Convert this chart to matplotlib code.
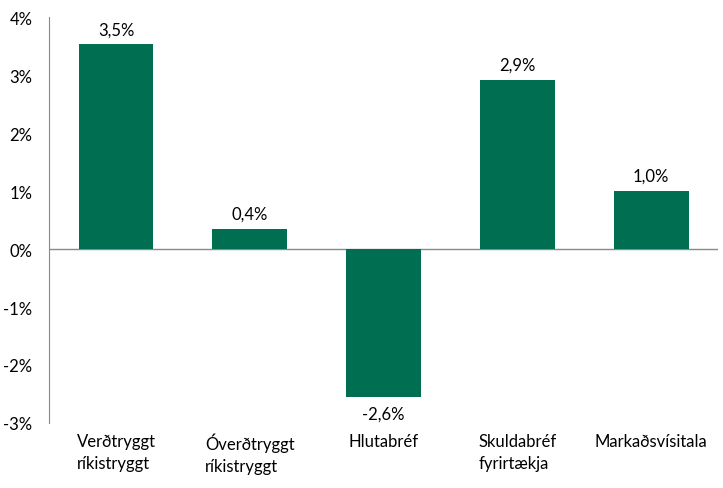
import matplotlib.pyplot as plt
from matplotlib.ticker import FuncFormatter

# categories and returns (%)
categories = ["Verðtryggt\nríkistryggt", "Óverðtryggt\nríkistryggt", "Hlutabréf",
              "Skuldabréf\nfyrirtækja", "Markaðsvísitala"]
values = [3.53, 0.35, -2.56, 2.92, 1.0]
labels = ["3,5%", "0,4%", "-2,6%", "2,9%", "1,0%"]

plt.rcParams['font.family'] = ['Lato', 'DejaVu Sans']

fig = plt.figure(figsize=(7.23, 4.89), dpi=100)
ax = fig.add_axes([0.068, 0.133, 0.925, 0.830])

x = range(len(categories))
bars = ax.bar(x, values, width=0.56, color="#006E50", zorder=2)

# value labels
for b, v, lab in zip(bars, values, labels):
	if v >= 0:
		ax.annotate(lab, (b.get_x() + b.get_width() / 2, v), xytext=(0, 5),
			textcoords="offset points", ha="center", va="bottom", fontsize=12)
	else:
		ax.annotate(lab, (b.get_x() + b.get_width() / 2, v), xytext=(0, -6),
			textcoords="offset points", ha="center", va="top", fontsize=12)

ax.axhline(0, color="#898989", lw=1, zorder=1)

ax.set_xlim(-0.5, len(categories) - 0.5)
ax.set_ylim(-3, 4)
ax.set_yticks(range(-3, 5))
ax.yaxis.set_major_formatter(FuncFormatter(lambda v, p: "%d%%" % v))

ax.set_xticks(list(x))
ax.set_xticklabels(categories, multialignment="left", va="top", linespacing=1.45)

ax.tick_params(axis="x", length=0, pad=7, labelsize=12)
ax.tick_params(axis="y", length=0, pad=12, labelsize=12)

for s in ["top", "right", "bottom"]:
	ax.spines[s].set_visible(False)
ax.spines["left"].set_color("#898989")

fig.savefig("out.png", dpi=100)
